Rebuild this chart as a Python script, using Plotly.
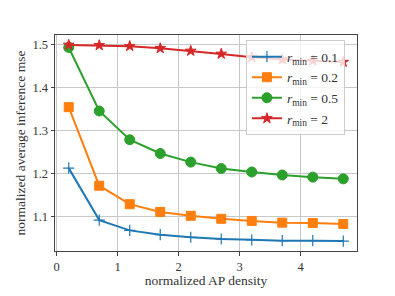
import plotly.graph_objects as go

x = [0.2, 0.7, 1.2, 1.7, 2.2, 2.7, 3.2, 3.7, 4.2, 4.7]
r01 = [1.213, 1.092, 1.068, 1.058, 1.052, 1.048, 1.046, 1.044, 1.044, 1.043]
r02 = [1.355, 1.172, 1.129, 1.111, 1.102, 1.095, 1.090, 1.086, 1.085, 1.083]
r05 = [1.494, 1.346, 1.279, 1.247, 1.227, 1.212, 1.204, 1.197, 1.192, 1.188]
r2 = [1.500, 1.499, 1.497, 1.492, 1.486, 1.479, 1.471, 1.466, 1.463, 1.460]
names = ["<i>r</i><sub>min</sub> = 0.1", "<i>r</i><sub>min</sub> = 0.2",
         "<i>r</i><sub>min</sub> = 0.5", "<i>r</i><sub>min</sub> = 2"]
colors = ["#1f77b4", "#ff7f0e", "#2ca02c", "#d62728"]
symbols = ["cross-thin", "square", "circle", "star"]
sizes = [8, 9, 10, 8]
mlw = [1.2, 1, 1, 1]

fig = go.Figure()
for ys, n, c, s, sz, lw in zip([r01, r02, r05, r2], names, colors, symbols, sizes, mlw):
    fig.add_trace(go.Scatter(
        x=x, y=ys, name=n, mode="lines+markers",
        line=dict(color=c, width=2),
        marker=dict(symbol=s, size=sz, color=c, line=dict(color=c, width=lw)),
    ))

font = "Liberation Serif"
axis_common = dict(
    showgrid=True, gridcolor="#c8c8c8", gridwidth=1,
    showline=True, linecolor="#444444", linewidth=1, mirror=True,
    ticks="outside", ticklen=3.5, tickcolor="#444444", tickwidth=1,
    zeroline=False, tickfont=dict(family=font, size=12.5, color="#333333"),
)
fig.update_layout(
    width=387, height=288,
    margin=dict(l=41, r=38, t=27, b=30),
    paper_bgcolor="white", plot_bgcolor="white",
    font=dict(family=font, size=12, color="#333333"),
    showlegend=True,
    legend=dict(x=0.96, y=0.975, xanchor="right", yanchor="top",
                bgcolor="rgba(255,255,255,0.8)", bordercolor="#cccccc", borderwidth=1,
                font=dict(family=font, size=13.5), itemwidth=30, tracegroupgap=0),
    xaxis=dict(range=[-0.025, 4.925], tickvals=[0, 1, 2, 3, 4],
               title=dict(text="normalized AP density", standoff=1, font=dict(family=font, size=13.5)),
               **axis_common),
    yaxis=dict(range=[1.02, 1.523], tickvals=[1.1, 1.2, 1.3, 1.4, 1.5], tickformat=".1f",
               title=dict(text="normalized average inference mse", standoff=3, font=dict(family=font, size=13.5)),
               **axis_common),
)
fig.write_html("out.html")
